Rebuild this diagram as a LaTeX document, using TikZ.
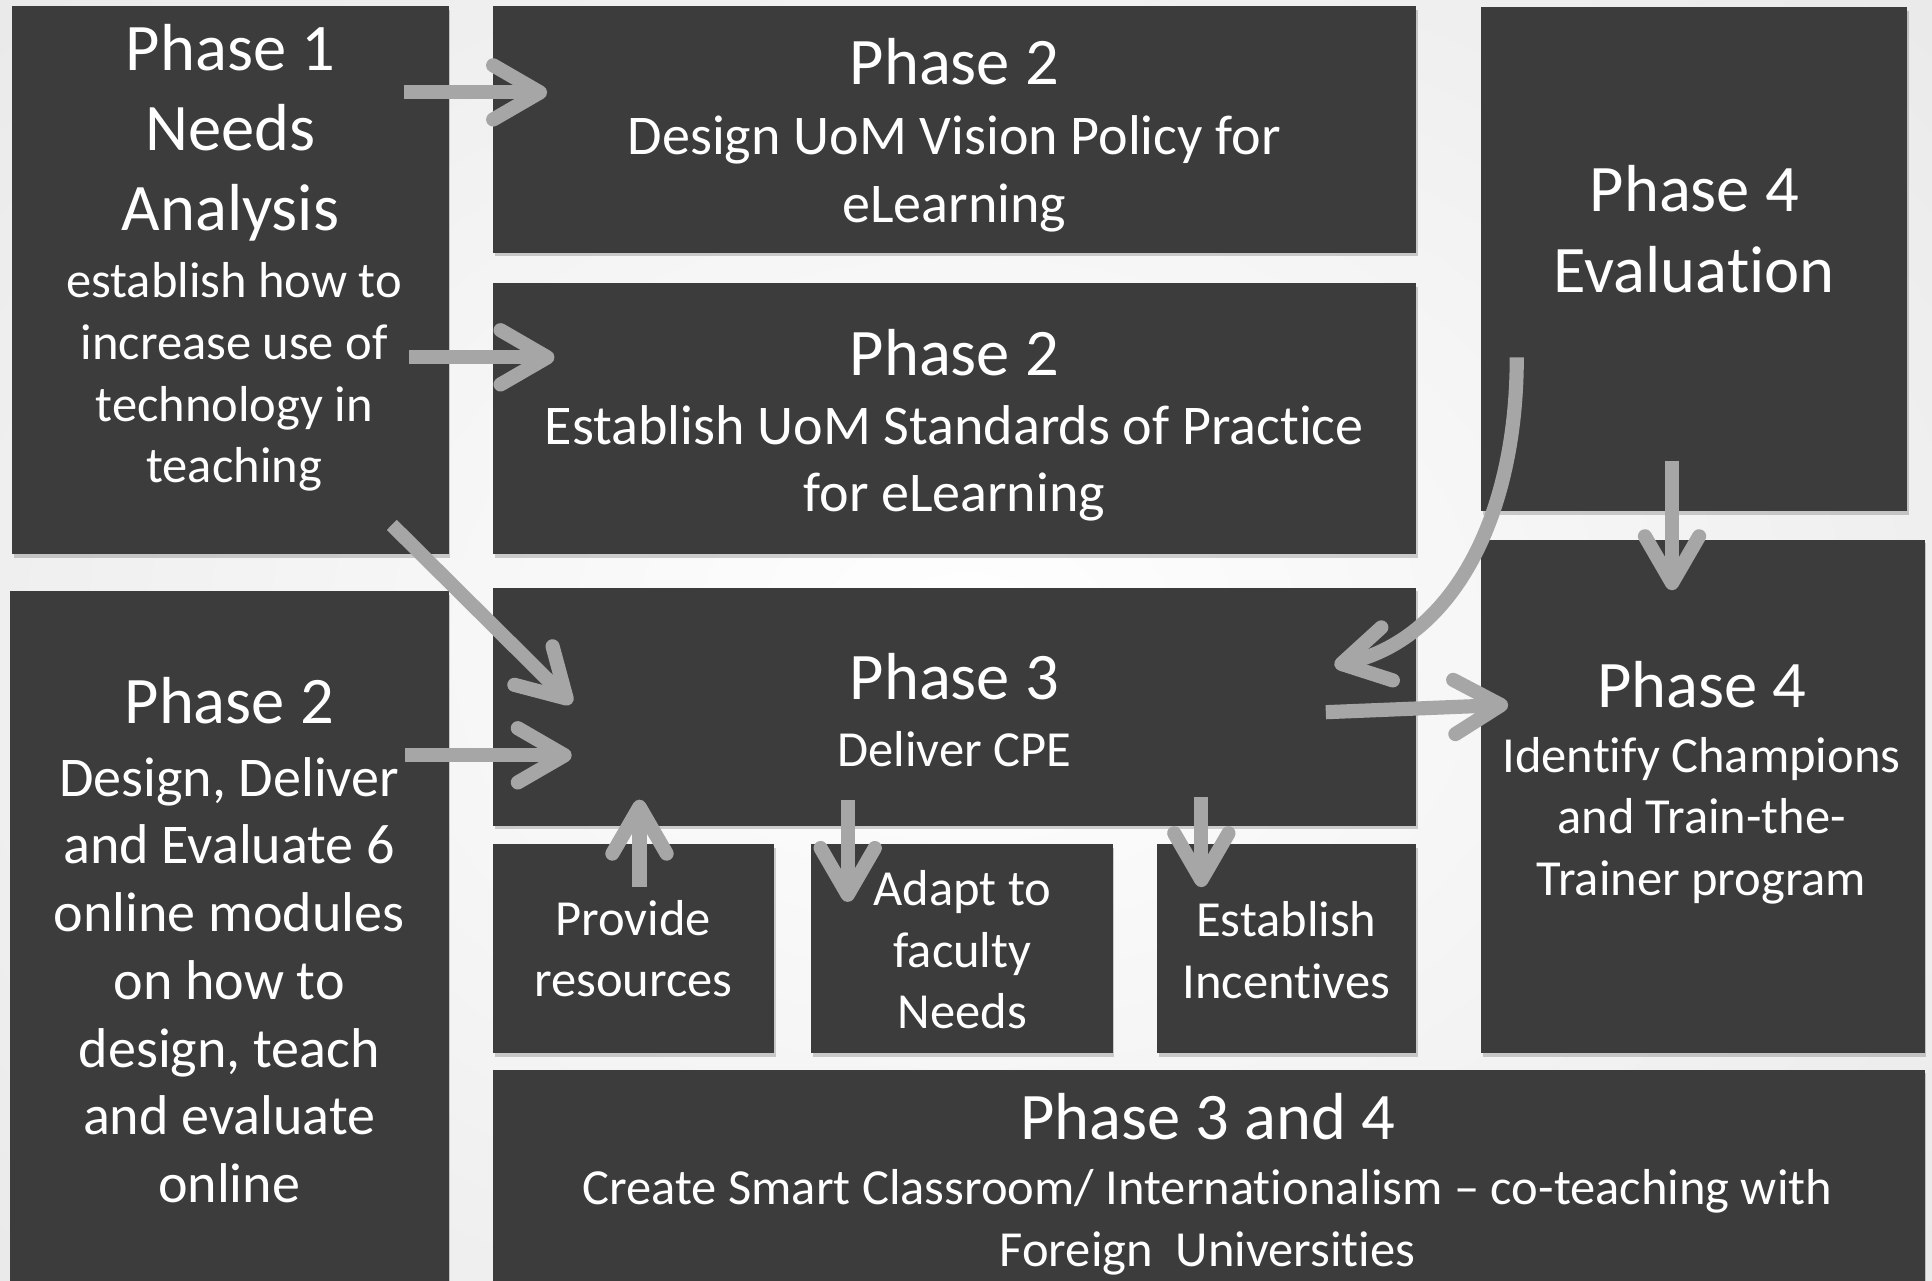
\documentclass[tikz,border=0pt]{standalone}
\usepackage{fontspec}
\setmainfont[Ligatures={NoCommon,NoContextual},RawFeature=-calt]{Carlito}
\usetikzlibrary{arrows.meta,shadows}
\definecolor{boxgray}{RGB}{60,60,60}
\definecolor{arrgray}{RGB}{166,166,166}
\definecolor{bgedge}{RGB}{234,234,234}
\tikzset{
  boxs/.style={fill=boxgray, draw=none, anchor=north west, inner sep=0pt, outer sep=0pt,
    drop shadow={shadow xshift=1.5pt, shadow yshift=-3pt, opacity=0.18, fill=black}},
  tT/.style={text=white, align=center, inner sep=0pt, font=\fontsize{54}{65}\selectfont},
  tM/.style={text=white, align=center, inner sep=0pt, font=\fontsize{45.5}{55}\selectfont},
  tS/.style={text=white, align=center, inner sep=0pt, font=\fontsize{41}{50}\selectfont},
  flow/.style={draw=arrgray, line width=11.5pt, -{Straight Barb[length=38pt, width=44pt, round]}}
}
\begin{document}
\begin{tikzpicture}[x=1pt,y=-1pt]
\useasboundingbox (0,0) rectangle (1568,1039);
\clip (0,0) rectangle (1568,1039);
\fill[white] (0,0) rectangle (1568,1039);
\shade[inner color=white, outer color=bgedge] (-250,-250) rectangle (1818,1289);

% boxes
\node[boxs, minimum width=354pt, minimum height=445pt] (p1) at (10,5) {};
\node[boxs, minimum width=749pt, minimum height=200pt] (p2a) at (400,5) {};
\node[boxs, minimum width=749pt, minimum height=220pt] (p2b) at (400,230) {};
\node[boxs, minimum width=346pt, minimum height=409pt] (p4e) at (1202,6) {};
\node[boxs, minimum width=356pt, minimum height=600pt] (p2c) at (8,480) {};
\node[boxs, minimum width=749pt, minimum height=193pt] (p3) at (400,477) {};
\node[boxs, minimum width=228pt, minimum height=170pt] (prov) at (400,685) {};
\node[boxs, minimum width=245pt, minimum height=170pt] (adapt) at (658,685) {};
\node[boxs, minimum width=210pt, minimum height=170pt] (estab) at (939,685) {};
\node[boxs, minimum width=360pt, minimum height=417pt] (p4i) at (1202,438) {};
\node[boxs, minimum width=1162pt, minimum height=220pt] (p34) at (400,868) {};

% texts
\node[tT] (p1t) at (187,108) {Phase 1\\Needs\\Analysis};
\node[tS] (p1b) at (190,306) {establish how to\\increase use of\\technology in\\teaching};
\node[tT] (p2at) at (774.5,50) {Phase 2};
\node[tM] (p2ab) at (774.5,141) {Design UoM Vision Policy for\\eLearning};
\node[tT] (p2bt) at (774.5,286) {Phase 2};
\node[tM] (p2bb) at (774.5,376) {Establish UoM Standards of Practice\\for eLearning};
\node[tT] (p4et) at (1375,186) {Phase 4\\Evaluation};
\node[tT] (p2ct) at (186,569) {Phase 2};
\node[tM] (p2cb) at (186,795.5) {Design, Deliver\\and Evaluate 6\\online modules\\on how to\\design, teach\\and evaluate\\online};
\node[tT] (p3t) at (774.5,549) {Phase 3};
\node[tS] (p3b) at (774.5,608) {Deliver CPE};
\node[tS] (provt) at (514,770) {Provide\\resources};
\node[tS] (adaptt) at (781,771) {Adapt to\\faculty\\Needs};
\node[tS] (estabt) at (1044,771) {Establish\\Incentives};
\node[tT] (p4it) at (1381,556) {Phase 4};
\node[tS] (p4ib) at (1381,666) {Identify Champions\\and Train-the-\\Trainer program};
\node[tT] (p34t) at (980,906) {Phase 3 and 4};
\node[tS] (p34b) at (980,992) {Create Smart Classroom/ Internationalism -- co-teaching with\\Foreign\ \ Universities};

% connector end points
\coordinate (a1s) at (328,75);   \coordinate (a1e) at (444,75);
\coordinate (a2s) at (332,290);  \coordinate (a2e) at (450,290);
\coordinate (a3s) at (318,426);  \coordinate (a3e) at (464,571);
\coordinate (a4s) at (329,613);  \coordinate (a4e) at (464,613);
\coordinate (a5s) at (1231,290); \coordinate (a5e) at (1083,540);
\coordinate (a6s) at (1357,374); \coordinate (a6e) at (1357,479);
\coordinate (a7s) at (1076,578); \coordinate (a7e) at (1224,572);
\coordinate (a8s) at (519,720);  \coordinate (a8e) at (519,649);
\coordinate (a9s) at (688,649);  \coordinate (a9e) at (688,732);
\coordinate (a10s) at (975,647); \coordinate (a10e) at (975,720);

\draw[flow] (a1s) -- (a1e);
\draw[flow] (a2s) -- (a2e);
\draw[flow] (a3s) -- (a3e);
\draw[flow] (a4s) -- (a4e);
\draw[flow] (a5s) .. controls (1231,425) and (1175,520) .. (a5e);
\draw[flow] (a6s) -- (a6e);
\draw[flow] (a7s) -- (a7e);
\draw[flow] (a8s) -- (a8e);
\draw[flow] (a9s) -- (a9e);
\draw[flow] (a10s) -- (a10e);
\end{tikzpicture}
\end{document}
